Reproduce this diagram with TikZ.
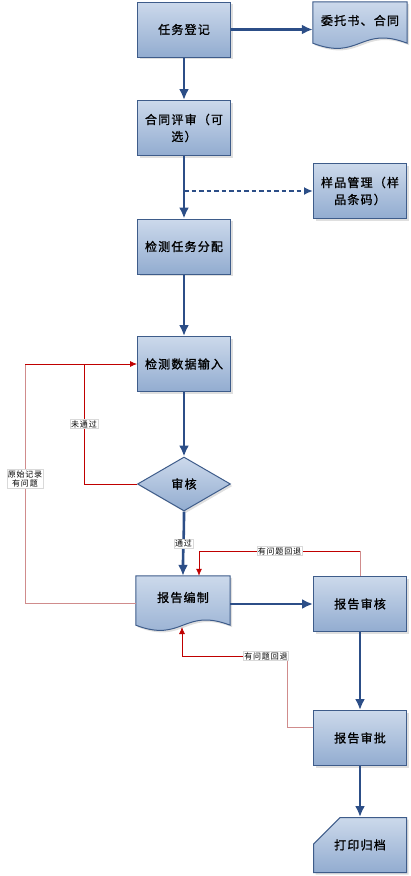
\documentclass[tikz,border=0pt]{standalone}
\usepackage{fontspec}
\setmainfont{Noto Sans CJK SC}[LetterSpace=10]
\newfontfamily\boxfont{Noto Sans CJK SC}[LetterSpace=10,FakeBold=1.2]
\usepackage{tikz}
\usetikzlibrary{positioning,calc,shadows,arrows.meta}
\usetikzlibrary{shapes.geometric,shapes.misc}
\definecolor{boxtop}{RGB}{204,217,235}
\definecolor{boxbot}{RGB}{146,172,208}
\definecolor{boxline}{RGB}{62,92,138}
\definecolor{flowc}{RGB}{44,78,135}
\definecolor{backc}{RGB}{192,0,0}
\definecolor{backl}{RGB}{208,140,140}
\tikzset{shade/.style={draw=boxline,line width=1pt,top color=boxtop,bottom color=boxbot,
    drop shadow={shadow xshift=2pt,shadow yshift=-2pt,opacity=.25}}}
\tikzset{boxtext/.style={font=\boxfont\fontsize{12}{17}\selectfont}}
\tikzset{box/.style={rectangle,shade,minimum width=93pt,minimum height=55pt,inner sep=1pt,
    align=center,boxtext}}
\tikzset{doc/.style={rectangle,minimum width=94pt,inner sep=1pt,align=center}}
\tikzset{check/.style={diamond,shade,minimum width=93pt,minimum height=54pt,inner sep=0pt,boxtext}}
\tikzset{card/.style={box,chamfered rectangle,chamfered rectangle corners=north west,
    chamfered rectangle xsep=20pt,chamfered rectangle ysep=20pt}}
\tikzset{flow/.style={draw=flowc,line width=2.6pt,-{Latex[length=11pt,width=10pt]}}}
\tikzset{dflow/.style={draw=flowc,line width=2pt,dash pattern=on 4.5pt off 3pt,-{Latex[length=9pt,width=8pt]}}}
\tikzset{back/.style={draw=backc,line width=0.8pt}}
\tikzset{backl/.style={draw=backl,line width=0.8pt}}
\tikzset{backtip/.style={back,-{Latex[length=7pt,width=6pt]}}}
\tikzset{lbl/.style={fill=white,draw=black!15,line width=0.4pt,inner sep=1pt,align=center,
    font=\fontsize{8}{9.5}\selectfont}}

\begin{document}
\begin{tikzpicture}[x=1pt,y=-1pt]
  \useasboundingbox (0,0) rectangle (410,876);

  % main column
  \node[box] (reg) at (184,29.5) {任务登记};
  \node[box] (rev) at (184,128) {合同评审（可\\选）};
  \node[box] (asg) at (184,246.5) {检测任务分配};
  \node[box] (inp) at (184,364) {检测数据输入};
  \node[check] (chk) at (184,484) {审核};
  \node[doc,minimum height=49pt] (rep) at (183,600.5) {};
  \path[shade] (rep.north west) -- (rep.north east) -- (rep.south east)
    .. controls +(-47,-18) and +(47,18) .. (rep.south west) -- cycle;
  \node[boxtext] at ([yshift=3pt]rep.center) {报告编制};

  % right column
  \node[doc,minimum height=41pt] (entr) at (360,22.5) {};
  \path[shade] (entr.north west) -- (entr.north east) -- (entr.south east)
    .. controls +(-47,-18) and +(47,18) .. (entr.south west) -- cycle;
  \node[boxtext] at ([yshift=2pt]entr.center) {委托书、合同};
  \node[box] (smp) at (360,191) {样品管理（样\\品条码）};
  \node[box] (aud) at (360,604) {报告审核};
  \node[box] (apr) at (360,738) {报告审批};
  \node[card] (arc) at (360,845) {打印归档};

  % flow
  \draw[flow] (reg.east) -- (entr.west |- reg.east);
  \draw[flow] (reg) -- (rev);
  \draw[flow] (rev) -- (asg);
  \coordinate (d0) at (rev.south |- smp.west);
  \draw[dflow] (d0) -- (smp.west);
  \draw[flow] (asg) -- (inp);
  \draw[flow] (inp) -- (chk);
  \draw[flow] (chk.south) to[out=-90,in=90] node[lbl,text=black]{通过} (rep.north);
  \draw[flow] (rep.east |- aud.west) -- (aud.west);
  \draw[flow] (aud) -- (apr);
  \draw[flow] (apr) -- (arc);

  % feedback
  \coordinate (o1) at (25,364);
  \coordinate (n1) at (84,364);
  \draw[backl] ([yshift=-3pt]rep.west) -| node[lbl,pos=0.76]{原始记录\\有问题} (o1);
  \draw[back] (o1) -- (n1);
  \draw[backtip] (chk.west) -| node[lbl,pos=0.75]{未通过} (n1) -- (inp.west);

  \coordinate (t1) at (360,551);
  \coordinate (t2) at ($(rep.north)+(16,0)$);
  \draw[backl] (aud.north) -- (t1);
  \draw[backtip] (t1) -| node[lbl,pos=0.25]{有问题回退} (t2);

  \coordinate (b1) at (287,656);
  \coordinate (b2) at (182,627);
  \draw[backl] ([yshift=11pt]apr.west) -| (b1);
  \draw[backtip] (b1) -| node[lbl,pos=0.1]{有问题回退} (b2);
\end{tikzpicture}
\end{document}
